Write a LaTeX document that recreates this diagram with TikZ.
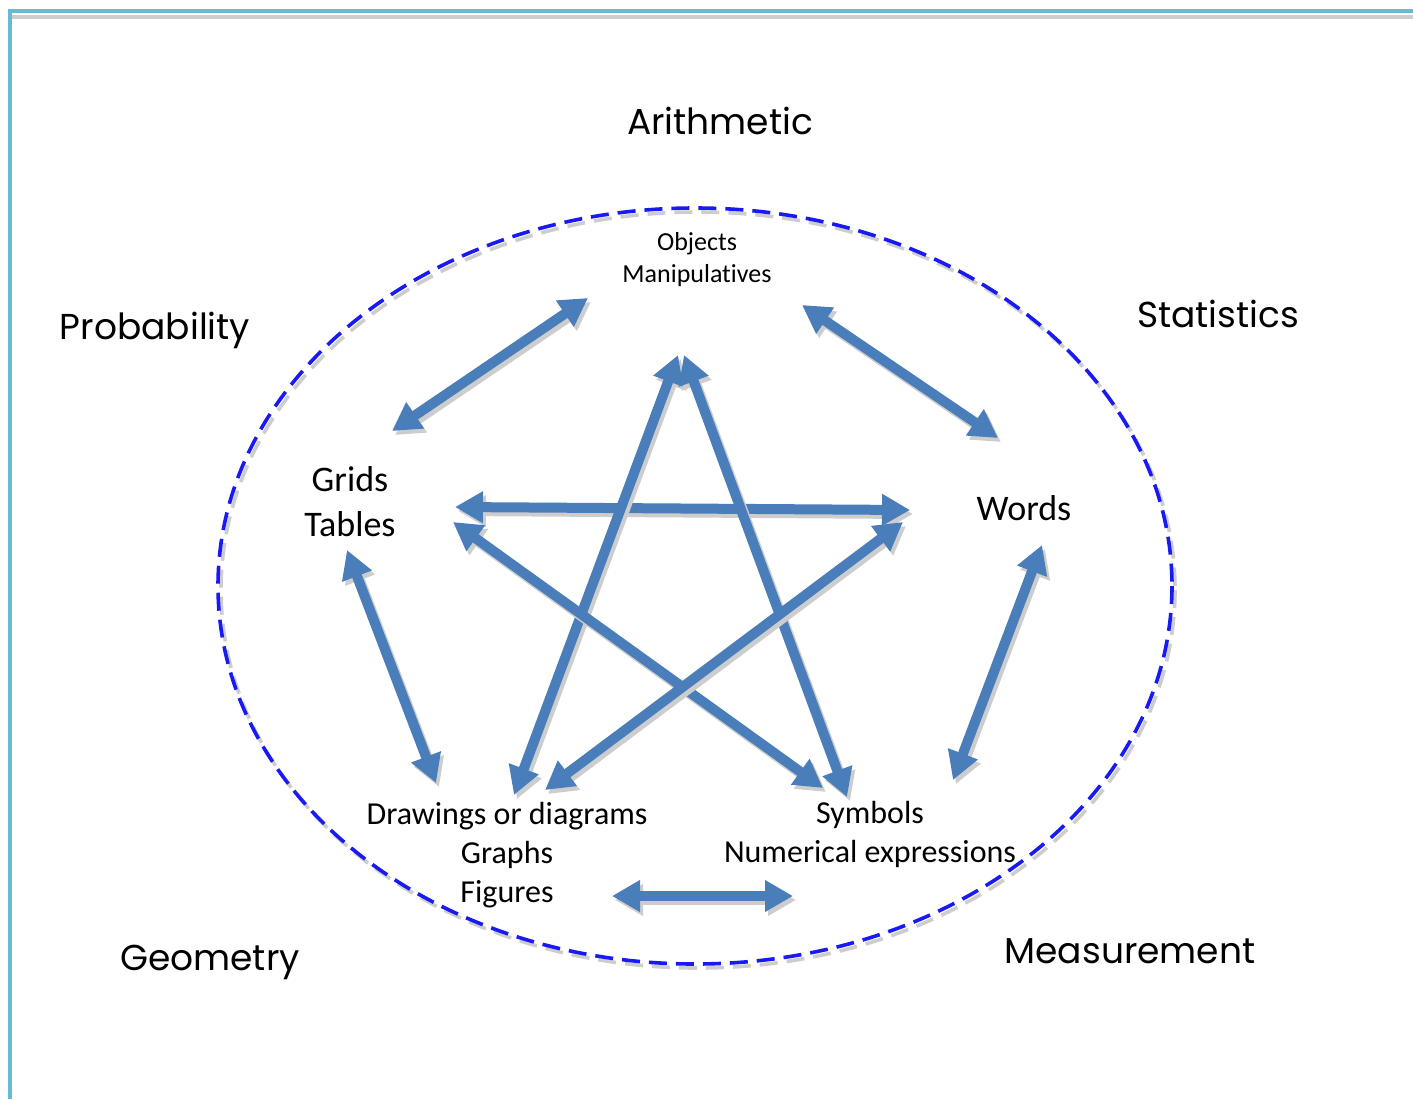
\documentclass[tikz,border=0pt]{standalone}
\usepackage{fontspec}
\setmainfont{Carlito}[Ligatures={NoCommon}]
\newfontfamily\handfont{Poppins}
\usepackage{xcolor}
\usetikzlibrary{positioning,arrows.meta}
\definecolor{arrowblue}{RGB}{74,126,187}
\definecolor{dashblue}{RGB}{25,25,245}
\definecolor{frameblue}{RGB}{104,186,210}
\definecolor{shadowgray}{RGB}{205,205,205}

\begin{document}
\begin{tikzpicture}[x=0.5pt,y=-0.5pt,
           field/.style={font=\handfont\fontsize{18}{22}\selectfont},
           form/.style={align=center,font=\fontsize{18}{22.5}\selectfont},
           link/.style={arrowblue,line width=5pt,
             {Triangle[length=14pt,width=15pt]}-{Triangle[length=14pt,width=15pt]}},
           linkshadow/.style={link,shadowgray,transform canvas={xshift=1.5pt,yshift=-2pt}},
           rim/.style={dashblue,line width=1.8pt,dash pattern=on 9pt off 4.5pt}]
           \useasboundingbox (0,0) rectangle (1413,1099);
           \draw[shadowgray,line width=2pt] (12,17) -- (1413,17);
           \draw[frameblue,line width=2pt] (9.5,1099) -- (9.5,11) -- (1413,11);
           \draw[rim,shadowgray,shift={(3,4)}] (695,586) ellipse [x radius=477,y radius=378];
           \draw[rim] (695,586) ellipse [x radius=477,y radius=378];
           \node[field] (arith) at (720,121) {Arithmetic};
           \node[field] (prob) at (155,330) {Probability};
           \node[field] (stat) at (1218,314) {Statistics};
           \node[field] (geom) at (210,962) {Geometry};
           \node[field] (meas) at (1130,951) {Measurement};
           \node[form,font=\fontsize{13}{16}\selectfont] (obj) at (697,260) {Objects\\Manipulatives};
           \node[form] (grid) at (350,502) {Grids\\Tables};
           \node[form] (word) at (1024,508) {Words};
           \node[form,font=\fontsize{16}{19.5}\selectfont] (draw) at (507,855) {Drawings or diagrams\\Graphs\\Figures};
           \node[form,font=\fontsize{16}{19.5}\selectfont] (sym) at (870,834) {Symbols\\Numerical expressions};
           \coordinate (og1) at (588,298);   \coordinate (og2) at (392,431);
           \coordinate (ow1) at (802,305);   \coordinate (ow2) at (998,438);
           \coordinate (gw1) at (455,507);   \coordinate (gw2) at (910,510);
           \coordinate (gd1) at (347,550);   \coordinate (gd2) at (436,783);
           \coordinate (ws1) at (1042,545);  \coordinate (ws2) at (953,780);
           \coordinate (ds1) at (612,896);   \coordinate (ds2) at (793,896);
           \coordinate (od1) at (678,355);   \coordinate (od2) at (514,795);
           \coordinate (os1) at (684,355);   \coordinate (os2) at (847,797);
           \coordinate (gs1) at (453,522);   \coordinate (gs2) at (823,788);
           \coordinate (wd1) at (903,522);   \coordinate (wd2) at (545,790);
           \foreach \a/\b in {og1/og2,ow1/ow2,gw1/gw2,gd1/gd2,ws1/ws2,ds1/ds2,od1/od2,os1/os2,gs1/gs2,wd1/wd2}{
             \draw[linkshadow] (\a) -- (\b);
             \draw[link] (\a) -- (\b);
           }
         \end{tikzpicture}
\end{document}
